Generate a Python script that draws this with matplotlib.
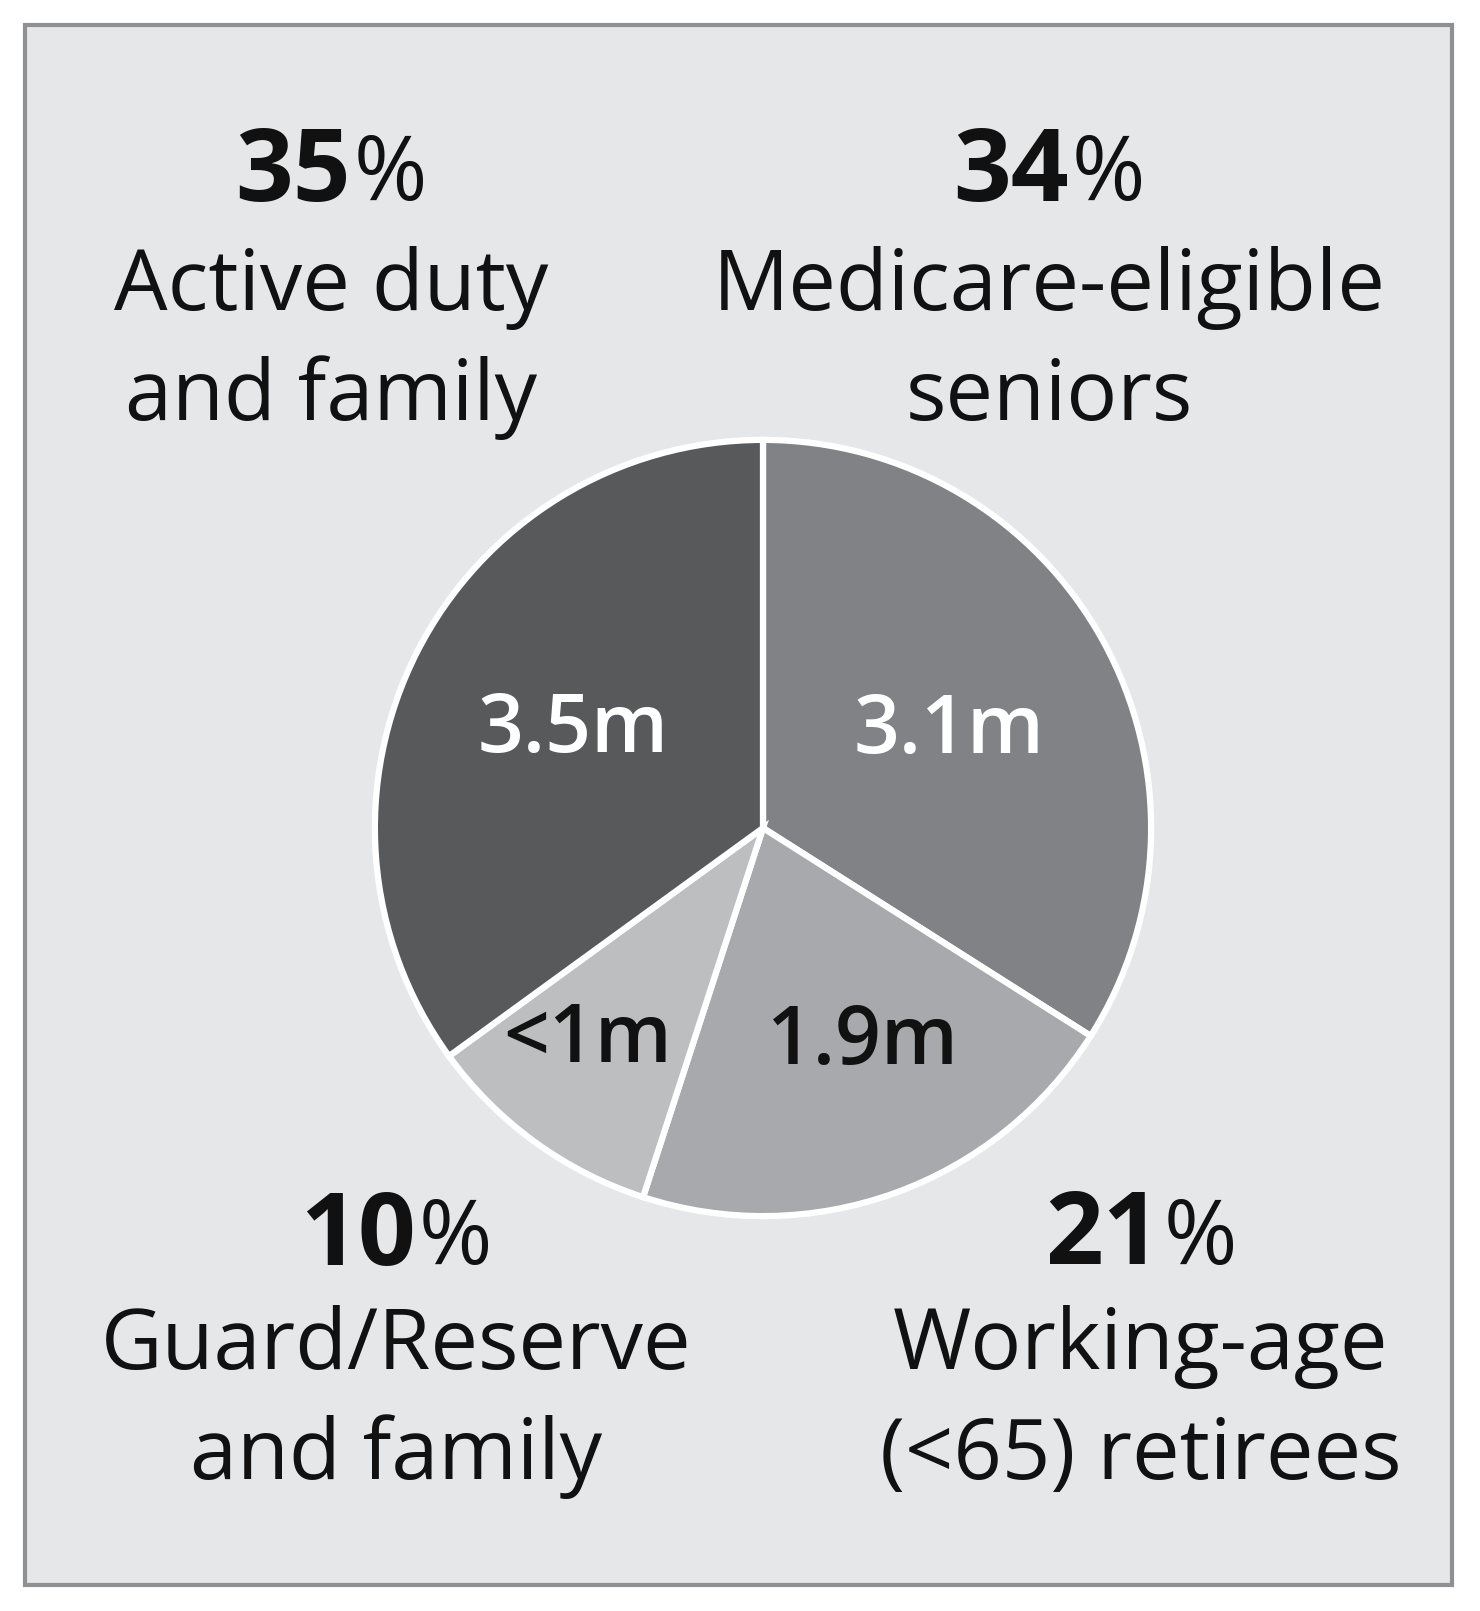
import matplotlib
matplotlib.use("Agg")
import matplotlib.pyplot as plt
from matplotlib.patches import Rectangle
import numpy as np

# ---- data ----
categories = ["Medicare-eligible\nseniors", "Working-age\n(<65) retirees",
              "Guard/Reserve\nand family", "Active duty\nand family"]
shares = [34, 21, 10, 35]
value_labels = ["3.1m", "1.9m", "<1m", "3.5m"]
pct_labels = ["34", "21", "10", "35"]
colors = ["#808285", "#a7a9ac", "#bcbec0", "#58595b"]
value_colors = ["white", "#111111", "#111111", "white"]

plt.rcParams['font.family'] = ['Open Sans', 'DejaVu Sans']

W, H = 1480, 1611
fig = plt.figure(figsize=(W / 100, H / 100), dpi=100)
fig.patch.set_facecolor("white")

# framed background
fig.patches.append(Rectangle((25 / W, 1 - 1585 / H), (1452 - 25) / W, (1585 - 25) / H,
                             transform=fig.transFigure, facecolor="#e6e7e8",
                             edgecolor="#8f9093", linewidth=3.0, zorder=-5))

cx, cy, r = 763, 828, 392
ax = fig.add_axes([(cx - r) / W, 1 - (cy + r) / H, 2 * r / W, 2 * r / H])
ax.set_zorder(2)
ax.patch.set_visible(False)
wedges, _ = ax.pie(shares, colors=colors, startangle=90, counterclock=False, radius=1,
                   wedgeprops=dict(edgecolor="white", linewidth=4.5))
ax.set_xlim(-1.01, 1.01)
ax.set_ylim(-1.01, 1.01)
ax.axis("off")

label_dist = [0.54, 0.61, 0.71, 0.55]
label_shift = [-1.5, 5.0, -3.5, 0.0]
for w, lab, c, d, s in zip(wedges, value_labels, value_colors, label_dist, label_shift):
    ang = np.deg2rad((w.theta1 + w.theta2) / 2 + s)
    ax.text(d * np.cos(ang), d * np.sin(ang), lab, ha="center", va="center",
            fontsize=58, color=c, fontweight="semibold")

# outer labels: (center x, pct y, first line y) in pixels
outer_pos = {
    "Medicare-eligible\nseniors": (1049, 174, 288),
    "Working-age\n(<65) retirees": (1141, 1238, 1347),
    "Guard/Reserve\nand family": (396, 1238, 1347),
    "Active duty\nand family": (331, 174, 288),
}

fig.canvas.draw()
renderer = fig.canvas.get_renderer()
for cat, pct in zip(categories, pct_labels):
    x, py, ly = outer_pos[cat]
    lines = cat.split("\n")
    for i, line in enumerate(lines):
        fig.text(x / W, 1 - (ly + i * 110) / H, line, ha="center", va="center",
                 fontsize=61, color="#111111")
    t1 = fig.text(0, 1 - py / H, pct, ha="left", va="center", fontsize=73,
                  fontweight="bold", color="#111111")
    t2 = fig.text(0, 1 - py / H, "%", ha="left", va="center", fontsize=64,
                  color="#111111")
    w1 = t1.get_window_extent(renderer).width
    w2 = t2.get_window_extent(renderer).width
    total = w1 + w2 + 2
    left = x - total / 2
    t1.set_x(left / W)
    t2.set_x((left + w1 + 2) / W)
    t2.set_y(1 - (py + 3) / H)

fig.savefig("out.png", dpi=100, facecolor="white")
